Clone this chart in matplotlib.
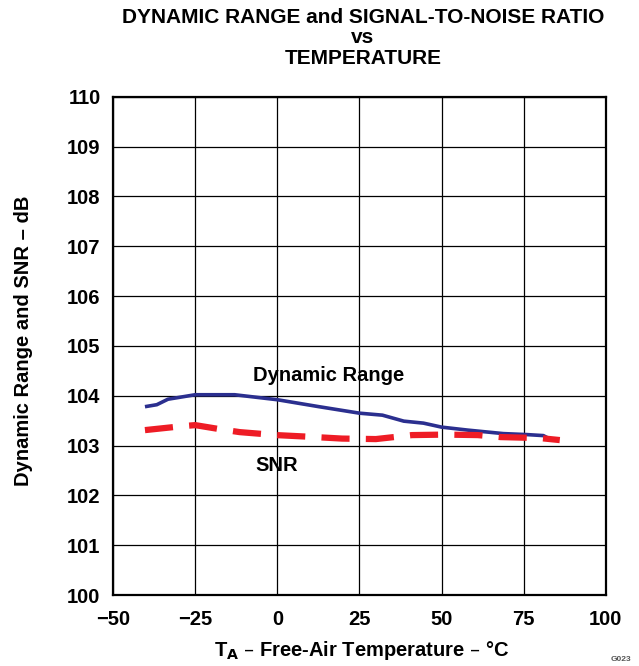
import matplotlib.pyplot as plt

plt.rcParams['font.family'] = ['Liberation Sans', 'DejaVu Sans']
plt.rcParams['font.weight'] = 'bold'

# Dynamic range vs temperature
dr_temp = [-40.3, -36.7, -33.3, -25, -13, 0, 12.7, 25, 32, 38.5, 44.5, 50, 58, 68.8, 76, 81, 83]
dr_db = [103.78, 103.82, 103.93, 104.02, 104.02, 103.92, 103.78, 103.65, 103.61, 103.49, 103.45, 103.37, 103.31, 103.24, 103.22, 103.2, 103.13]

# SNR vs temperature
snr_temp = [-40.3, -28.8, -25, -17.6, -11.5, -0.3, 8.8, 19.7, 30, 41, 51, 61, 68, 80, 86]
snr_db = [103.31, 103.39, 103.41, 103.33, 103.27, 103.21, 103.18, 103.14, 103.13, 103.21, 103.22, 103.21, 103.17, 103.15, 103.11]

x_ticks = [-50, -25, 0, 25, 50, 75, 100]
x_labels = ['\u221250', '\u221225', '0', '25', '50', '75', '100']
y_ticks = list(range(100, 111))

fig = plt.figure(figsize=(6.39, 6.66), dpi=100)
ax = fig.add_axes([0.177, 0.1066, 0.771, 0.748])

ax.plot(dr_temp, dr_db, color='#2b2f8f', linewidth=2.6, solid_capstyle='butt')
ax.plot(snr_temp, snr_db, color='#ee1c25', linewidth=4.5, linestyle=(0, (4.5, 2.6)))

ax.set_xlim(-50, 100)
ax.set_ylim(100, 110)
ax.set_xticks(x_ticks)
ax.set_xticklabels(x_labels)
ax.set_yticks(y_ticks)
ax.grid(True, color='black', linewidth=0.9)
ax.tick_params(length=0, labelsize=14.5)
ax.tick_params(axis='x', pad=11)
ax.tick_params(axis='y', pad=9)
for lab in ax.get_xticklabels() + ax.get_yticklabels():
    lab.set_fontweight('bold')
for s in ax.spines.values():
    s.set_linewidth(1.6)

ax.text(15.5, 104.4, 'Dynamic Range', ha='center', va='center', fontsize=14.5, fontweight='bold')
ax.text(-0.3, 102.6, 'SNR', ha='center', va='center', fontsize=14.5, fontweight='bold')

ax.set_xlabel(r'T$_\mathbf{A}$ – Free-Air Temperature – °C', fontsize=14.5, fontweight='bold')
ax.set_ylabel('Dynamic Range and SNR – dB', fontsize=14.5, fontweight='bold')
ax.xaxis.set_label_coords(0.505, -0.088)
ax.yaxis.set_label_coords(-0.163, 0.51)

fig.text(0.568, 0.988, 'DYNAMIC RANGE and SIGNAL-TO-NOISE RATIO\nvs\nTEMPERATURE',
         ha='center', va='top', fontsize=15, fontweight='bold', linespacing=1.1)
fig.text(0.955, 0.008, 'G023', fontsize=6, color='#555555', ha='left')

fig.savefig('out.png', dpi=100)
